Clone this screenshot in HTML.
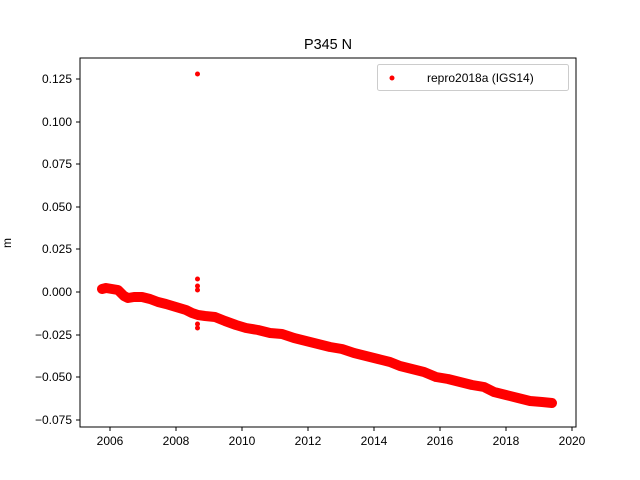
<!DOCTYPE html>
<html><head><meta charset="utf-8"><style>body{margin:0;background:#fff}svg{display:block}</style></head>
<body>
<svg width="640" height="480" xmlns="http://www.w3.org/2000/svg" font-family="'Liberation Sans','DejaVu Sans',sans-serif">
<rect width="640" height="480" fill="#fff"/>
<text x="328" y="49" font-size="14.4" text-anchor="middle">P345 N</text>
<g stroke="#f00" fill="none" stroke-linecap="round" stroke-linejoin="round">
<polyline stroke-width="10" points="102,289 106,288 112,289 118,290 124,296 128,298 134,297 142,297 150,299 158,302 166,304 176,307 186,310 192,313 198,315 205,316 215,317 225,321 236,325 246,328 258,330 270,333 282,334 294,338 306,341 318,344 330,347 342,349 354,353 366,356 378,359 390,362 400,366 412,369 424,372 436,377 448,379 460,382 472,385 484,387 494,392 506,395 518,398 530,401 542,402 552,403"/>
</g>
<g fill="#f00">
<circle cx="197.5" cy="74" r="2.5"/>
<circle cx="197.5" cy="279" r="2.5"/>
<circle cx="197.5" cy="286" r="2.5"/>
<circle cx="197.5" cy="290" r="2.5"/>
<circle cx="197.5" cy="324" r="2.5"/>
<circle cx="197.5" cy="328" r="2.5"/>
</g>
<rect x="80" y="58" width="496" height="369" fill="none" stroke="#000" stroke-width="1"/>
<g stroke="#000">
<line x1="110" y1="427" x2="110" y2="431"/><line x1="176" y1="427" x2="176" y2="431"/><line x1="242" y1="427" x2="242" y2="431"/><line x1="308" y1="427" x2="308" y2="431"/><line x1="374" y1="427" x2="374" y2="431"/><line x1="440" y1="427" x2="440" y2="431"/><line x1="506" y1="427" x2="506" y2="431"/><line x1="572" y1="427" x2="572" y2="431"/>
<line x1="76" y1="79" x2="80" y2="79"/><line x1="76" y1="122" x2="80" y2="122"/><line x1="76" y1="164" x2="80" y2="164"/><line x1="76" y1="207" x2="80" y2="207"/><line x1="76" y1="249" x2="80" y2="249"/><line x1="76" y1="292" x2="80" y2="292"/><line x1="76" y1="335" x2="80" y2="335"/><line x1="76" y1="377" x2="80" y2="377"/><line x1="76" y1="420" x2="80" y2="420"/>
</g>
<g font-size="12" text-anchor="middle">
<text x="110" y="445">2006</text><text x="176" y="445">2008</text><text x="242" y="445">2010</text><text x="308" y="445">2012</text><text x="374" y="445">2014</text><text x="440" y="445">2016</text><text x="506" y="445">2018</text><text x="572" y="445">2020</text>
</g>
<g font-size="12" text-anchor="end">
<text x="72" y="83">0.125</text><text x="72" y="126">0.100</text><text x="72" y="168">0.075</text><text x="72" y="211">0.050</text><text x="72" y="253">0.025</text><text x="72" y="296">0.000</text><text x="72" y="339">−0.025</text><text x="72" y="381">−0.050</text><text x="72" y="424">−0.075</text>
</g>
<text x="11" y="243" font-size="12" text-anchor="middle" transform="rotate(-90 11 243)">m</text>
<rect x="377.5" y="64.5" width="191" height="26" rx="2" fill="#fff" stroke="#ccc"/>
<circle cx="392" cy="78" r="2.5" fill="#f00"/>
<text x="427" y="82" font-size="12">repro2018a (IGS14)</text>
</svg>
</body></html>
